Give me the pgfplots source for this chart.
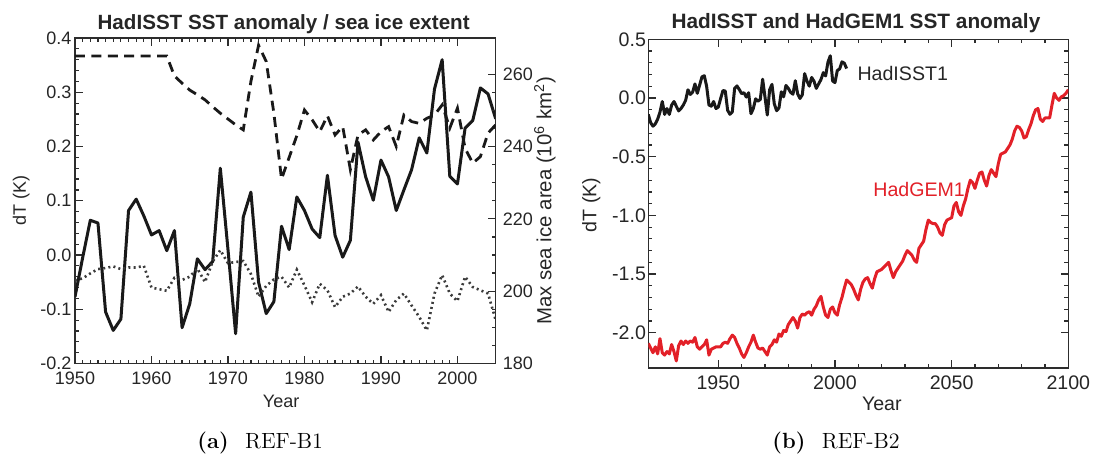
\documentclass[border=0pt]{standalone}
\usepackage{fontspec}
\usepackage{pgfplots}
\usepackage{pgfplotstable}
\pgfplotsset{compat=1.18}
\newfontfamily\hv{Liberation Sans}
\definecolor{gemred}{RGB}{226,32,40}
\definecolor{axgray}{RGB}{45,45,45}
\definecolor{lnblack}{RGB}{25,25,25}

\pgfplotstableread{
year sst dot ice
1950 -0.077 -0.047 265.0
1951 -0.005 -0.043 265.0
1952 0.064 -0.034 265.0
1953 0.059 -0.026 265.0
1954 -0.105 -0.024 265.0
1955 -0.139 -0.021 265.0
1956 -0.118 -0.026 265.0
1957 0.082 -0.023 265.0
1958 0.103 -0.023 265.0
1959 0.072 -0.020 265.0
1960 0.037 -0.060 265.0
1961 0.045 -0.063 265.0
1962 0.008 -0.066 265.0
1963 0.045 -0.042 259.5
1964 -0.134 -0.046 257.5
1965 -0.090 -0.040 255.6
1966 -0.007 -0.025 254.3
1967 -0.027 -0.050 252.9
1968 -0.012 -0.012 251.0
1969 0.160 0.009 249.2
1970 0.010 -0.015 247.6
1971 -0.145 -0.013 246.0
1972 0.070 -0.011 244.6
1973 0.116 -0.035 258.0
1974 -0.050 -0.077 268.0
1975 -0.108 -0.057 263.5
1976 -0.086 -0.045 249.2
1977 0.053 -0.040 231.0
1978 0.010 -0.060 237.0
1979 0.107 -0.027 243.0
1980 0.082 -0.056 250.1
1981 0.048 -0.087 247.4
1982 0.032 -0.053 244.1
1983 0.147 -0.065 248.5
1984 0.036 -0.096 243.2
1985 -0.004 -0.077 245.5
1986 0.027 -0.071 233.6
1987 0.208 -0.058 243.2
1988 0.144 -0.077 244.6
1989 0.101 -0.090 241.8
1990 0.175 -0.074 244.1
1991 0.144 -0.105 245.5
1992 0.082 -0.083 240.0
1993 0.120 -0.071 248.7
1994 0.157 -0.093 246.9
1995 0.216 -0.114 246.4
1996 0.188 -0.139 247.8
1997 0.306 -0.071 248.7
1998 0.360 -0.037 251.5
1999 0.145 -0.071 245.1
2000 0.131 -0.085 250.6
2001 0.234 -0.040 239.5
2002 0.248 -0.059 235.4
2003 0.308 -0.065 237.2
2004 0.297 -0.071 243.7
2005 0.251 -0.120 246.0
}\lefttab

\pgfplotstableread{
year dt
1920 -0.14
1921 -0.21
1922 -0.24
1923 -0.22
1924 -0.18
1925 -0.12
1926 -0.03
1927 -0.14
1928 -0.09
1929 -0.14
1930 -0.06
1931 -0.03
1932 -0.07
1933 -0.11
1934 -0.09
1935 -0.06
1936 -0.02
1937 0.07
1938 0.03
1939 0.05
1940 0.12
1941 0.04
1942 0.11
1943 0.18
1944 0.19
1945 0.10
1946 -0.06
1947 -0.07
1948 -0.03
1949 -0.09
1950 -0.077
1951 -0.005
1952 0.064
1953 0.059
1954 -0.105
1955 -0.139
1956 -0.118
1957 0.082
1958 0.103
1959 0.072
1960 0.037
1961 0.045
1962 0.008
1963 0.045
1964 -0.134
1965 -0.090
1966 -0.007
1967 -0.027
1968 -0.012
1969 0.160
1970 0.010
1971 -0.145
1972 0.070
1973 0.116
1974 -0.050
1975 -0.108
1976 -0.086
1977 0.053
1978 0.010
1979 0.107
1980 0.082
1981 0.048
1982 0.032
1983 0.147
1984 0.036
1985 -0.004
1986 0.027
1987 0.208
1988 0.144
1989 0.101
1990 0.175
1991 0.144
1992 0.082
1993 0.120
1994 0.157
1995 0.216
1996 0.188
1997 0.306
1998 0.360
1999 0.145
2000 0.131
2001 0.234
2002 0.248
2003 0.308
2004 0.297
2005 0.251
}\isst

\pgfplotstableread{
year dt
1920 -2.09
1921 -2.13
1922 -2.17
1923 -2.12
1924 -2.18
1925 -2.05
1926 -2.17
1927 -2.19
1928 -2.16
1929 -2.18
1930 -2.10
1931 -2.16
1932 -2.24
1933 -2.11
1934 -2.07
1935 -2.10
1936 -2.07
1937 -2.09
1938 -2.07
1939 -2.08
1940 -2.04
1941 -2.12
1942 -2.14
1943 -2.12
1944 -2.10
1945 -2.06
1946 -2.19
1947 -2.14
1948 -2.13
1949 -2.12
1950 -2.12
1951 -2.12
1952 -2.09
1953 -2.08
1954 -2.09
1955 -2.05
1956 -2.02
1957 -2.04
1958 -2.09
1959 -2.13
1960 -2.18
1961 -2.21
1962 -2.17
1963 -2.12
1964 -2.08
1965 -2.02
1966 -2.08
1967 -2.13
1968 -2.14
1969 -2.13
1970 -2.16
1971 -2.19
1972 -2.12
1973 -2.10
1974 -2.06
1975 -2.08
1976 -2.01
1977 -2.03
1978 -1.98
1979 -1.99
1980 -1.93
1981 -1.90
1982 -1.87
1983 -1.90
1984 -1.96
1985 -1.87
1986 -1.84
1987 -1.85
1988 -1.83
1989 -1.82
1990 -1.85
1991 -1.80
1992 -1.77
1993 -1.72
1994 -1.69
1995 -1.78
1996 -1.85
1997 -1.87
1998 -1.80
1999 -1.78
2000 -1.83
2001 -1.85
2002 -1.76
2003 -1.70
2004 -1.62
2005 -1.55
2006 -1.57
2007 -1.59
2008 -1.63
2009 -1.68
2010 -1.72
2011 -1.63
2012 -1.57
2013 -1.54
2014 -1.53
2015 -1.58
2016 -1.62
2017 -1.54
2018 -1.48
2019 -1.47
2020 -1.46
2021 -1.44
2022 -1.42
2023 -1.40
2024 -1.47
2025 -1.53
2026 -1.48
2027 -1.45
2028 -1.42
2029 -1.39
2030 -1.34
2031 -1.30
2032 -1.32
2033 -1.34
2034 -1.38
2035 -1.40
2036 -1.28
2037 -1.25
2038 -1.22
2039 -1.12
2040 -1.04
2041 -1.06
2042 -1.07
2043 -1.07
2044 -1.10
2045 -1.15
2046 -1.17
2047 -1.08
2048 -1.04
2049 -1.03
2050 -1.02
2051 -0.92
2052 -0.89
2053 -0.97
2054 -1.00
2055 -0.92
2056 -0.86
2057 -0.77
2058 -0.70
2059 -0.72
2060 -0.77
2061 -0.70
2062 -0.64
2063 -0.63
2064 -0.70
2065 -0.75
2066 -0.66
2067 -0.61
2068 -0.64
2069 -0.67
2070 -0.56
2071 -0.48
2072 -0.47
2073 -0.46
2074 -0.43
2075 -0.40
2076 -0.35
2077 -0.28
2078 -0.24
2079 -0.25
2080 -0.28
2081 -0.34
2082 -0.33
2083 -0.27
2084 -0.22
2085 -0.15
2086 -0.10
2087 -0.09
2088 -0.18
2089 -0.20
2090 -0.17
2091 -0.17
2092 -0.17
2093 -0.06
2094 0.04
2095 0.00
2096 -0.02
2097 0.01
2098 0.02
2099 0.04
2100 0.07
}\gem

\pgfplotsset{
  hadstyle/.style={
    scale only axis,
    axis line style={line width=0.7pt, color=axgray},
    every tick/.style={color=axgray, line width=0.6pt},
    tick align=inside,
    major tick length=3.8pt, minor tick length=2pt,
    /pgf/number format/assume math mode=true,
    xticklabel style={/pgf/number format/1000 sep={}, yshift=-0.6pt},
    yticklabel style={/pgf/number format/fixed, /pgf/number format/fixed zerofill, /pgf/number format/precision=1},
  }
}

\begin{document}
\begin{tikzpicture}
\useasboundingbox (0,0) rectangle (547pt,-227.5pt);

% ---------- left panel ----------
\begin{axis}[hadstyle,
  at={(37.5pt,-181.75pt)}, anchor=south west,
  width=210.35pt, height=162.75pt,
  xmin=1950, xmax=2005, ymin=-0.2, ymax=0.4,
  xtick={1950,1960,1970,1980,1990,2000}, minor x tick num=9,
  ytick={-0.2,-0.1,0,0.1,0.2,0.3,0.4}, minor y tick num=4,
  ytick pos=left,
  tick label style={font=\hv\fontsize{9}{10}\selectfont, color=black!85},
  yticklabel style={inner sep=1.6pt},
  xlabel={Year}, ylabel={dT (K)},
  label style={font=\hv\fontsize{9}{10}\selectfont, color=black!85},
  xlabel style={at={(axis description cs:0.49,-0.115)}, anchor=center},
  ylabel style={at={(axis description cs:-0.128,0.5)}, anchor=center, rotate=0},
  title={HadISST SST anomaly / sea ice extent},
  title style={font=\hv\bfseries\fontsize{10.3}{12}\selectfont, color=black!85,
    at={(axis description cs:0.496,1.0277)}, anchor=base, yshift=-6.5pt},
]
\addplot[lnblack, line width=1.5pt, line join=round] table[x=year, y=sst] {\lefttab};
\addplot[lnblack!85, line width=1.3pt, dash pattern=on 1pt off 1.6pt] table[x=year, y=dot] {\lefttab};
\end{axis}

\begin{axis}[hadstyle,
  at={(37.5pt,-181.75pt)}, anchor=south west,
  width=210.35pt, height=162.75pt,
  xmin=1950, xmax=2005, ymin=180, ymax=270,
  axis y line*=right, axis x line=none,
  tick align=inside,
  ytick={180,200,220,240,260}, minor y tick num=3,
  yticklabel style={/pgf/number format/fixed, /pgf/number format/precision=0, /pgf/number format/fixed zerofill=false},
  tick label style={font=\hv\fontsize{9}{10}\selectfont, color=black!85},
  ylabel={Max sea ice area (10\textsuperscript{6} km\textsuperscript{2})},
  ylabel style={font=\hv\fontsize{10.2}{12}\selectfont, color=black!85,
    at={(axis description cs:1.117,0.5)}, anchor=center, rotate=0},
]
\addplot[lnblack, line width=1.4pt, dash pattern=on 5pt off 3.2pt] table[x=year, y=ice] {\lefttab};
\end{axis}

% ---------- right panel ----------
\begin{axis}[hadstyle,
  at={(324.15pt,-184pt)}, anchor=south west,
  width=210pt, height=164.35pt,
  xmin=1920, xmax=2100, ymin=-2.3, ymax=0.5,
  xtick={1950,2000,2050,2100}, minor x tick num=4,
  ytick={-2,-1.5,-1,-0.5,0,0.5}, minor y tick num=4,
  tick label style={font=\hv\fontsize{9.8}{11}\selectfont, color=black!85},
  yticklabel style={inner sep=1pt},
  xlabel={Year}, ylabel={dT (K)},
  label style={font=\hv\fontsize{9.8}{11}\selectfont, color=black!85},
  xlabel style={at={(axis description cs:0.556,-0.11)}, anchor=center},
  ylabel style={at={(axis description cs:-0.136,0.496)}, anchor=center, rotate=0},
  title={HadISST and HadGEM1 SST anomaly},
  title style={font=\hv\bfseries\fontsize{10.4}{12}\selectfont, color=black!85,
    at={(axis description cs:0.4945,1.035)}, anchor=base, yshift=-6.5pt},
]
\addplot[gemred, line width=1.5pt, line join=round] table[x=year, y=dt] {\gem};
\addplot[lnblack, line width=1.5pt, line join=round] table[x=year, y=dt] {\isst};
\node[anchor=west, font=\hv\fontsize{9.8}{11}\selectfont, text=black!85, inner sep=0pt] at (axis cs:2009.5,0.21) {HadISST1};
\node[anchor=west, font=\hv\fontsize{9.8}{11}\selectfont, text=gemred, inner sep=0pt] at (axis cs:2016.3,-0.78) {HadGEM1};
\end{axis}

% ---------- captions ----------
\node[anchor=base west, inner sep=0pt, font=\fontsize{11}{13}\selectfont] at (98.5pt,-224pt) {\textbf{(a)}\hspace{0.75em}REF-B1};
\node[anchor=base west, inner sep=0pt, font=\fontsize{11}{13}\selectfont] at (386pt,-224pt) {\textbf{(b)}\hspace{0.75em}REF-B2};
\end{tikzpicture}
\end{document}
